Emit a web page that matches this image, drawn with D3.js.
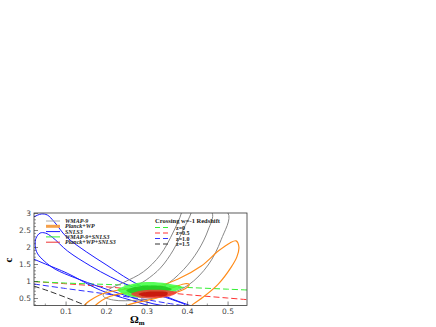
<!DOCTYPE html>
<html><head><meta charset="utf-8">
<script src="https://cdn.jsdelivr.net/npm/d3@7"></script>
<style>body{margin:0;background:#fff}svg{display:block}</style>
</head><body>
<svg id="c" width="436" height="327"></svg>
<script>
// ---- data (Omega_m, c) ----
const xTicks = [0.1, 0.2, 0.3, 0.4, 0.5];
const yTicks = [0.5, 1, 1.5, 2, 2.5, 3];
const legendNames = ["WMAP-9", "Planck+WP", "SNLS3", "WMAP-9+SNLS3", "Planck+WP+SNLS3"];
const crossNames = ["z=0", "z=0.5", "z=1.0", "z=1.5"];

const snls1 = [[0.037,2.41],[0.050,2.41],[0.067,2.29],[0.105,1.88],[0.162,1.44],[0.211,1.12],[0.260,0.85],[0.310,0.65],[0.359,0.47],[0.396,0.29],[0.334,0.29],[0.260,0.53],[0.186,0.82],[0.124,1.09],[0.074,1.35],[0.047,1.59],[0.030,1.82],[0.025,2.05],[0.027,2.26],[0.037,2.41]];
const snls2 = [[0.040,2.97],[0.055,2.94],[0.072,2.74],[0.102,2.30],[0.151,1.86],[0.200,1.48],[0.257,1.04],[0.306,0.74],[0.368,0.45],[0.418,0.20],[0.355,0.15],[0.260,0.44],[0.186,0.73],[0.104,1.23],[0.050,1.50],[0.020,1.65],[0.000,1.74],[0.000,2.80],[0.020,2.88],[0.040,2.97]];
const wmap1 = [[0.415,3.3],[0.410,3.0],[0.390,2.50],[0.366,1.91],[0.334,1.38],[0.299,1.03],[0.267,0.80],[0.255,0.62],[0.292,0.59],[0.341,0.83],[0.391,1.33],[0.428,1.91],[0.452,2.50],[0.462,3.0],[0.467,3.3]];
const wmap2 = [[0.390,3.3],[0.386,3.0],[0.366,2.44],[0.334,1.77],[0.292,1.27],[0.242,0.95],[0.205,0.74],[0.193,0.56],[0.218,0.44],[0.280,0.44],[0.341,0.56],[0.403,0.88],[0.452,1.47],[0.484,2.21],[0.501,3.0],[0.510,3.3]];
const planck2 = [[0.146,0.24],[0.184,0.59],[0.255,0.77],[0.312,0.80],[0.378,1.06],[0.435,1.44],[0.477,1.88],[0.506,2.12],[0.521,2.18],[0.528,2.00],[0.523,1.71],[0.509,1.41],[0.477,0.91],[0.440,0.53],[0.415,0.32],[0.395,0.10],[0.250,0.10],[0.160,0.10],[0.146,0.24]];
const planck1 = [[0.170,0.20],[0.200,0.50],[0.250,0.65],[0.310,0.68],[0.363,0.80],[0.395,0.92],[0.405,0.90],[0.395,0.77],[0.353,0.59],[0.304,0.44],[0.255,0.30],[0.230,0.10],[0.170,0.20]];
const green2 = [[0.228,0.74],[0.260,0.90],[0.300,0.97],[0.350,0.93],[0.388,0.82],[0.370,0.70],[0.330,0.58],[0.290,0.51],[0.255,0.56],[0.228,0.74]];
const green1 = [[0.250,0.72],[0.275,0.83],[0.310,0.87],[0.345,0.84],[0.362,0.76],[0.335,0.66],[0.300,0.60],[0.268,0.62],[0.250,0.72]];
const red2 = [[0.262,0.62],[0.280,0.70],[0.320,0.74],[0.355,0.72],[0.375,0.66],[0.360,0.56],[0.320,0.50],[0.285,0.51],[0.262,0.62]];
const red1 = [[0.280,0.62],[0.300,0.68],[0.330,0.69],[0.352,0.66],[0.350,0.58],[0.320,0.54],[0.292,0.55],[0.280,0.62]];
const zc0 = [[0.0,1.00],[0.1,0.94],[0.2,0.90],[0.3,0.86],[0.4,0.81],[0.5,0.76],[0.56,0.73]];
const zc05 = [[0.0,1.00],[0.1,0.92],[0.2,0.83],[0.3,0.72],[0.4,0.60],[0.5,0.50],[0.56,0.44]];
const zc10 = [[0.0,0.95],[0.1,0.78],[0.2,0.62],[0.3,0.45],[0.35,0.35],[0.40,0.26]];
const zc15 = [[0.0,0.93],[0.05,0.74],[0.1,0.52],[0.15,0.28]];

const svg = d3.select("#c");
const L = 34, R = 247, T = 213, B = 305.5;
const x = d3.scaleLinear().domain([0.022, 0.548]).range([L, R]);
const y = d3.scaleLinear().domain([0.28, 3]).range([B, T]);

svg.append("defs").append("clipPath").attr("id","clip")
  .append("rect").attr("x",L).attr("y",T).attr("width",R-L).attr("height",B-T);
const g = svg.append("g").attr("clip-path","url(#clip)");
const line = d3.line().x(d=>x(d[0])).y(d=>y(d[1])).curve(d3.curveCatmullRom.alpha(0.5));
const closed = d3.line().x(d=>x(d[0])).y(d=>y(d[1])).curve(d3.curveCatmullRomClosed.alpha(0.5));

function cont(data, stroke, w, fill){
  g.append("path").attr("d", closed(data.slice(0,-1)))
   .attr("fill", fill||"none").attr("stroke", stroke).attr("stroke-width", w);
}
function dl(data, col){ g.append("path").attr("d", line(data)).attr("fill","none")
  .attr("stroke",col).attr("stroke-width",1).attr("stroke-dasharray","6,3"); }
dl(zc15, "#333");
dl(zc10, "#3333ff");
dl(zc05, "#ff3333");
dl(zc0, "#33ee33");

cont(snls2, "#1a1aff", 1);
cont(snls1, "#1a1aff", 1);
cont(wmap2, "#888", 1);
cont(wmap1, "#888", 1);
cont(planck2, "#ff8c1a", 1.2);
cont(planck1, "#ff8c1a", 1.2);
cont(green2, "none", 0, "rgba(60,255,60,0.85)");
cont(green1, "none", 0, "rgba(30,200,30,0.85)");
cont(red2, "none", 0, "rgba(240,60,50,0.85)");
cont(red1, "none", 0, "rgba(200,20,10,0.9)");

// frame
svg.append("rect").attr("x",L).attr("y",T).attr("width",R-L).attr("height",B-T)
  .attr("fill","none").attr("stroke","#333").attr("stroke-width",0.8);

// axes
const ax = svg.append("g").attr("transform",`translate(0,${B})`)
  .call(d3.axisBottom(x).tickValues(xTicks).tickSize(-4).tickPadding(3).tickFormat(d3.format(".1f")));
const ay = svg.append("g").attr("transform",`translate(${L},0)`)
  .call(d3.axisLeft(y).tickValues(yTicks).tickSize(-4).tickPadding(3).tickFormat(d=>d));
[ax, ay].forEach(a=>{ a.select(".domain").remove();
  a.selectAll("text").attr("font-family","DejaVu Sans, sans-serif").attr("font-size",7.5).attr("fill","#444");
  a.selectAll("line").attr("stroke","#333").attr("stroke-width",0.6); });
svg.append("g").selectAll("line").data(d3.range(0.3,3.0,0.1).filter(v=>Math.abs(v*2-Math.round(v*2))>0.01))
  .join("line").attr("x1",L).attr("x2",L+2).attr("y1",d=>y(d)).attr("y2",d=>y(d)).attr("stroke","#333").attr("stroke-width",0.5);
svg.append("g").selectAll("line").data([0.05,0.15,0.25,0.35,0.45])
  .join("line").attr("x1",d=>x(d)).attr("x2",d=>x(d)).attr("y1",B).attr("y2",B-2).attr("stroke","#333").attr("stroke-width",0.5);

// axis labels
svg.append("text").attr("x",130).attr("y",323).attr("font-family","Liberation Serif, serif")
  .attr("font-weight","bold").attr("font-size",11).text("Ω")
  .append("tspan").attr("font-size",7).attr("dy",2).text("m");
svg.append("text").attr("transform","translate(12,260) rotate(-90)").attr("text-anchor","middle")
  .attr("font-family","Liberation Serif, serif").attr("font-weight","bold").attr("font-size",11).text("c");

// left legend
const lcol = ["#aaa","#f5a04a","#1a1aff","#33ee33","#ee3333"];
const lw = [1,3,1,1,1];
legendNames.forEach((n,i)=>{
  const yy = 221 + i*5.3;
  svg.append("line").attr("x1",46).attr("x2",60).attr("y1",yy).attr("y2",yy).attr("stroke",lcol[i]).attr("stroke-width",lw[i]);
  svg.append("text").attr("x",65).attr("y",yy+2).attr("font-family","Liberation Serif, serif")
    .attr("font-style","italic").attr("font-weight","bold").attr("font-size",6).attr("fill","#222").text(n);
});
// right legend
svg.append("text").attr("x",155).attr("y",223).attr("font-family","Liberation Serif, serif")
  .attr("font-weight","bold").attr("font-size",6.5).attr("fill","#222").text("Crossing w=-1 Redshift");
const ccol = ["#33ee33","#ff3333","#3333ff","#333"];
crossNames.forEach((n,i)=>{
  const yy = 227.5 + i*5.5;
  svg.append("line").attr("x1",155).attr("x2",169).attr("y1",yy).attr("y2",yy).attr("stroke",ccol[i]).attr("stroke-width",1).attr("stroke-dasharray","5,3");
  svg.append("text").attr("x",176).attr("y",yy+2).attr("font-family","Liberation Serif, serif")
    .attr("font-weight","bold").attr("font-size",6).attr("fill","#222").text(n);
});
</script>
</body></html>
